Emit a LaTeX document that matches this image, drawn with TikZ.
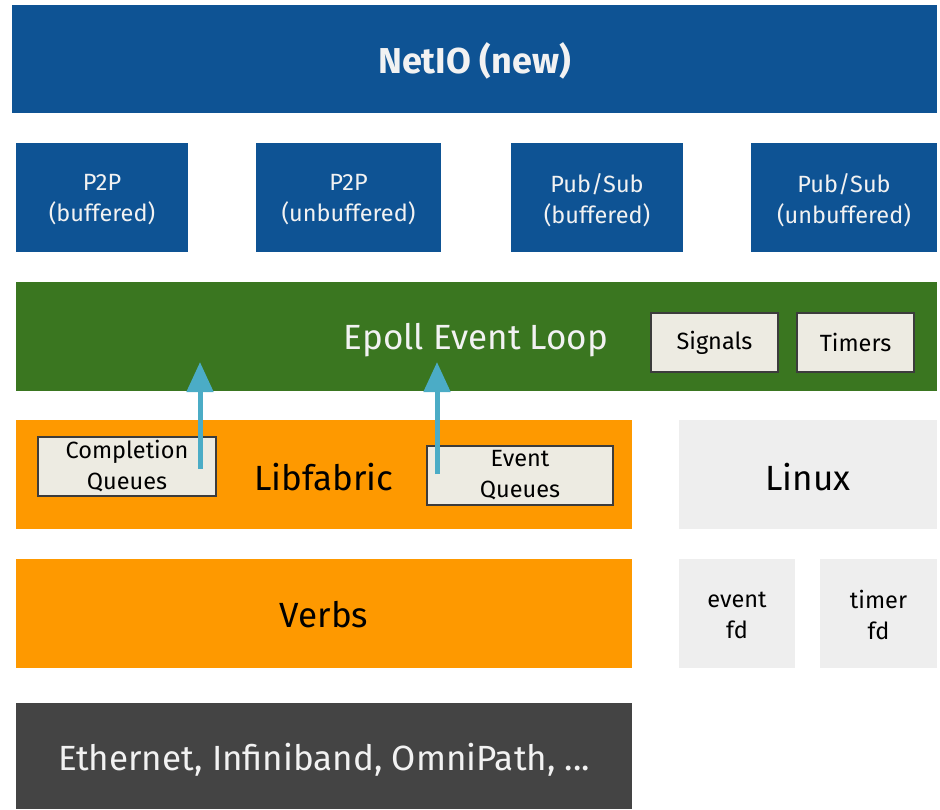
\documentclass[tikz,border=0pt]{standalone}
\usepackage{fontspec}
\setmainfont{Fira Sans}
\usetikzlibrary{arrows.meta}
\definecolor{nblue}{RGB}{14,83,148}
\definecolor{ngreen}{RGB}{58,118,32}
\definecolor{norange}{RGB}{254,153,0}
\definecolor{ndark}{RGB}{68,68,68}
\definecolor{nlight}{RGB}{238,238,238}
\definecolor{nbox}{RGB}{237,235,226}
\definecolor{nborder}{RGB}{60,60,60}
\definecolor{narrow}{RGB}{75,172,198}
\definecolor{nwhite}{RGB}{242,242,242}
\tikzset{
  big/.style={font=\fontsize{35}{40}\selectfont},
  small/.style={font=\fontsize{23.5}{31}\selectfont, align=center},
  qbox/.style={draw=nborder, line width=2pt, fill=nbox, inner sep=0pt},
  uparrow/.style={draw=narrow, line width=5pt, -{Triangle[width=26pt,length=30pt]}}
}
\begin{document}
\begin{tikzpicture}[x=1pt,y=-1pt]
\useasboundingbox (0,0) rectangle (940,809);
% layers
\fill[nblue] (12,5) rectangle (937,113);
\node[text=nwhite, font=\fontsize{36}{40}\selectfont\bfseries] (netio) at (474.5,61) {NetIO (new)};

\fill[nblue] (16,143) rectangle (188,252);
\node[small, text=nwhite] (p2pb) at (102,200) {P2P\\(buffered)};
\fill[nblue] (256,143) rectangle (441,252);
\node[small, text=nwhite] (p2pu) at (348.5,200) {P2P\\(unbuffered)};
\fill[nblue] (511,143) rectangle (683,252);
\node[small, text=nwhite] (psb) at (597,200) {Pub/Sub\\(buffered)};
\fill[nblue] (751,143) rectangle (937,252);
\node[small, text=nwhite] (psu) at (844,200) {Pub/Sub\\(unbuffered)};

\fill[ngreen] (16,282) rectangle (937,391);
\node[big, text=nwhite] (epoll) at (476,340) {Epoll Event Loop};
\node[qbox, small, minimum width=127pt, minimum height=59pt] (signals) at (714.5,342.5) {Signals};
\node[qbox, small, minimum width=117pt, minimum height=59pt] (timers) at (855.5,342.5) {Timers};

\fill[norange] (16,420) rectangle (632,529);
\node[big, text=black] (libf) at (324,477) {Libfabric};
\node[qbox, small, minimum width=178pt, minimum height=59pt] (cq) at (127,466.5) {Completion\\Queues};
\node[qbox, small, minimum width=186pt, minimum height=59pt] (eq) at (520,475.5) {Event\\Queues};

\fill[nlight] (679,420) rectangle (937,529);
\node[big, text=black] (linux) at (808,477) {Linux};

\fill[norange] (16,559) rectangle (632,668);
\node[big, text=black] (verbs) at (324,615) {Verbs};

\fill[nlight] (679,559) rectangle (795,668);
\node[small, text=black] (efd) at (737,615) {event\\fd};
\fill[nlight] (820,559) rectangle (937,668);
\node[small, text=black] (tfd) at (878.5,615) {timer\\fd};

\fill[ndark] (16,703) rectangle (632,809);
\node[big, text=nwhite] (eth) at (324,760) {Ethernet, Infiniband, OmniPath, ...};

% arrows
\coordinate (a1s) at (200,469);
\coordinate (a1e) at (200,362);
\coordinate (a2s) at (437,474);
\coordinate (a2e) at (437,362);
\draw[uparrow] (a1s) -- (a1e);
\draw[uparrow] (a2s) -- (a2e);
\end{tikzpicture}
\end{document}
